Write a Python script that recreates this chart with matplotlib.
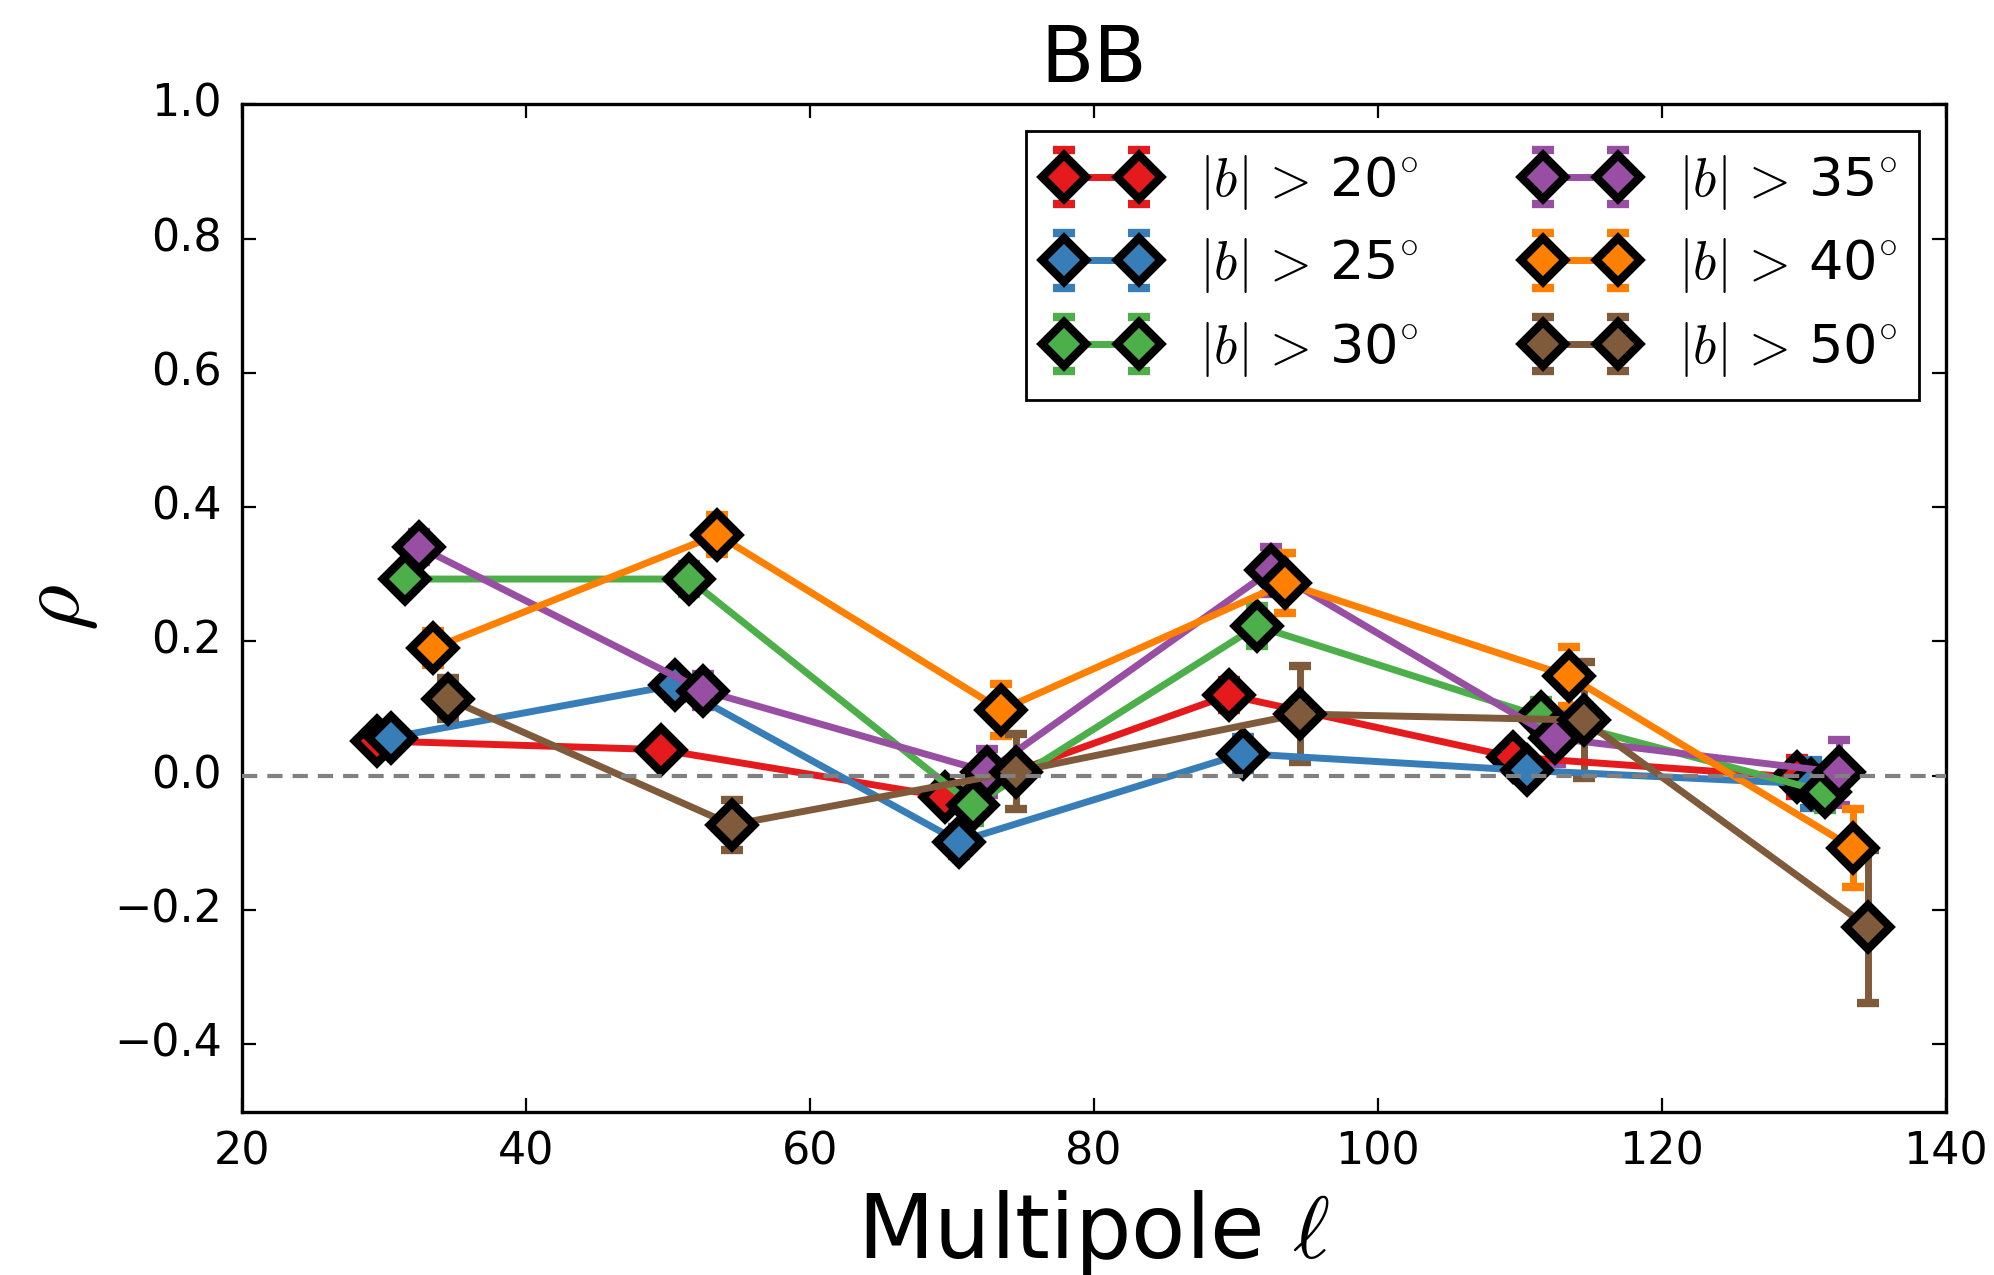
import numpy as np
import matplotlib
matplotlib.use("Agg")
import matplotlib.pyplot as plt

# ---------------------------------------------------------------------------
# Data
# ---------------------------------------------------------------------------
ell_bins = [29.5, 49.5, 69.5, 89.5, 109.5, 129.5]
cuts = [20, 25, 30, 35, 40, 50]
colors = ["#e41a1c", "#377eb8", "#4daf4a", "#984ea3", "#ff7f00", "#7f5a3b"]

rho_b20 = [0.052, 0.039, -0.031, 0.120, 0.028, -0.002]
rho_b25 = [0.057, 0.135, -0.098, 0.033, 0.008, -0.012]
rho_b30 = [0.293, 0.293, -0.044, 0.223, 0.088, -0.024]
rho_b35 = [0.341, 0.127, 0.006, 0.306, 0.056, 0.005]
rho_b40 = [0.190, 0.359, 0.098, 0.287, 0.148, -0.108]
rho_b50 = [0.115, -0.073, 0.006, 0.092, 0.083, -0.225]

err_b20 = [0.015, 0.018, 0.020, 0.022, 0.015, 0.028]
err_b25 = [0.015, 0.020, 0.022, 0.025, 0.018, 0.036]
err_b30 = [0.020, 0.022, 0.026, 0.030, 0.025, 0.027]
err_b35 = [0.022, 0.025, 0.034, 0.035, 0.038, 0.049]
err_b40 = [0.025, 0.029, 0.038, 0.045, 0.044, 0.058]
err_b50 = [0.030, 0.037, 0.056, 0.071, 0.087, 0.114]

rhos = [rho_b20, rho_b25, rho_b30, rho_b35, rho_b40, rho_b50]
errs = [err_b20, err_b25, err_b30, err_b35, err_b40, err_b50]

# ---------------------------------------------------------------------------
# Style
# ---------------------------------------------------------------------------
plt.style.use("classic")
plt.rcParams["figure.facecolor"] = "white"
plt.rcParams["savefig.facecolor"] = "white"
plt.rcParams["mathtext.fontset"] = "cm"
plt.rcParams["font.family"] = "DejaVu Sans"

fig = plt.figure(figsize=(9.97, 6.375), dpi=200)
ax = fig.add_axes([0.1212, 0.1282, 0.8546, 0.79])

for i, (cut, c, rho, err) in enumerate(zip(cuts, colors, rhos, errs)):
    x = np.array(ell_bins) + i  # small shift so the bars don't overlap
    ax.errorbar(x, rho, yerr=err, color=c, lw=2.5, marker="D", ms=11,
                mfc=c, mec="k", mew=3, capsize=4, capthick=2.5,
                elinewidth=2.5,
                label=r"$|b|\,>\,$" + f"{cut}" + r"$\!^\circ$")

ax.axhline(0, color="gray", ls=(0, (5.5, 3.6)), lw=1.5, zorder=3)

ax.set_xlim(20, 140)
ax.set_ylim(-0.5, 1.0)
ax.set_yticks(np.arange(-0.4, 1.01, 0.2))
ax.set_xticks(np.arange(20, 141, 20))

ax.tick_params(direction="in", length=5, width=0.8, labelsize=16, pad=7,
               top=True, right=True)
for sp in ax.spines.values():
    sp.set_linewidth(1.2)

ax.set_title("BB", fontsize=28, pad=8)
ax.set_xlabel(r"Multipole $\ell$", fontsize=32)
ax.set_ylabel(r"$\rho$", fontsize=32)

ax.legend(loc="upper right", ncol=2, numpoints=2, fontsize=19.5,
          labelspacing=0.45, frameon=True, fancybox=False)

fig.savefig("out.png", dpi=200)
